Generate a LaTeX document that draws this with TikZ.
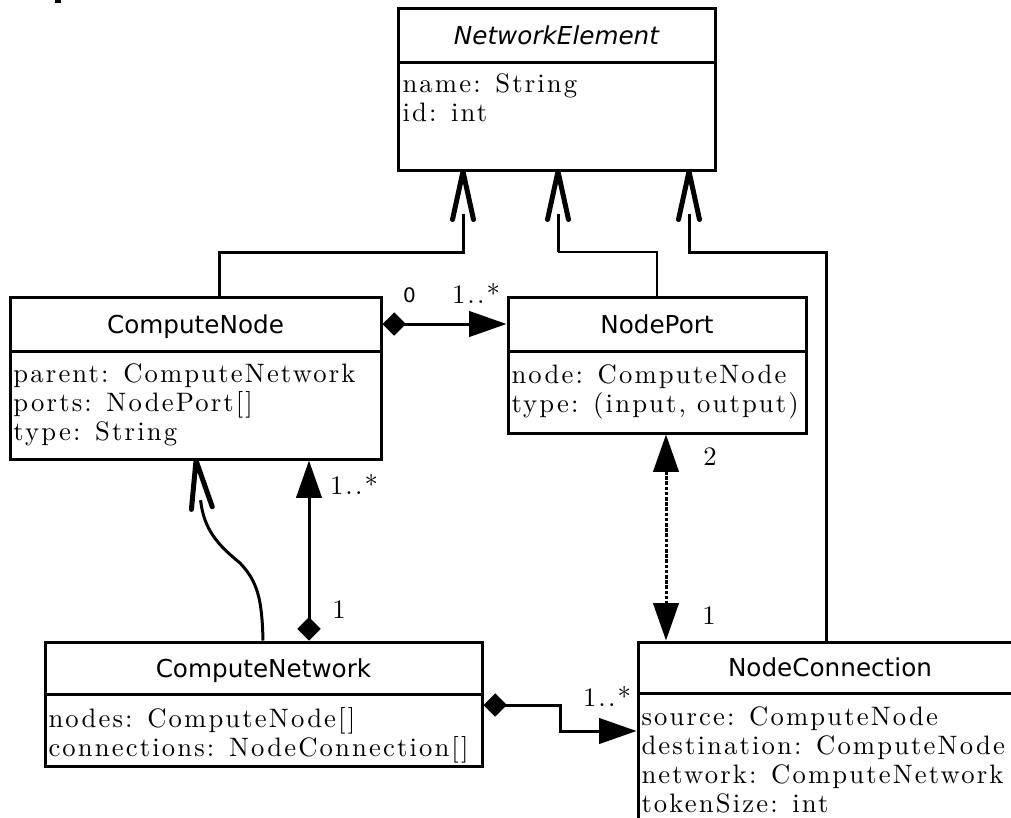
\documentclass[tikz,border=0pt]{standalone}
\usepackage{fontspec}
\usepackage{tikz}
\usetikzlibrary{arrows.meta}
\newfontfamily\headfont{DejaVu Sans}
\newfontfamily\attrfamily{lmroman10-regular.otf}[LetterSpace=8]
\newcommand\attrfont{\attrfamily\fontsize{20}{21.75}\selectfont}
\tikzset{every picture/.style={line width=0.75pt}}
\tikzset{
  classhead/.style={draw, line width=2.25pt, inner sep=0pt, text height=13.5pt, text depth=0pt, font=\headfont\fontsize{18.5}{22}\selectfont},
  classbody/.style={draw, line width=2.25pt, inner sep=0pt},
  attrs/.style={anchor=base west, inner sep=0pt, align=left, font=\attrfont},
  mult/.style={inner sep=0pt, font=\attrfamily\fontsize{20}{22}\selectfont},
  comp/.style={{Diamond[length=17.5pt,width=17.5pt]}-{Triangle[length=28pt,width=19pt]}, line width=2.25pt},
  link/.style={{Triangle[length=28pt,width=19pt]}-{Triangle[length=28pt,width=19pt]}, line width=2.25pt, dash pattern=on 2.6pt off 1.3pt},
  gen/.style={line width=2.25pt, shorten >=31.5pt},
  openhead/.style={line width=3.75pt, line join=round, line cap=round}
}

\begin{document}
\begin{tikzpicture}[x=0.75pt,y=0.75pt,yscale=-1,xscale=1]
\useasboundingbox (0,0) rectangle (1011,818);
\clip (0,0) rectangle (1011,818);

%Class boxes: header and body
\node[classhead, minimum width=237.75pt, minimum height=40.5pt] (neH) at (556.5,35) {\itshape NetworkElement};
\node[classbody, minimum width=237.75pt, minimum height=81pt] (neB) at (556.5,116) {};
\node[classhead, minimum width=278.25pt, minimum height=40.5pt] (cnH) at (195.5,324) {ComputeNode};
\node[classbody, minimum width=278.25pt, minimum height=81pt] (cnB) at (195.5,405) {};
\node[classhead, minimum width=223.5pt, minimum height=40.5pt] (npH) at (657,324) {NodePort};
\node[classbody, minimum width=223.5pt, minimum height=61.5pt] (npB) at (657,392) {};
\node[classhead, minimum width=327.75pt, minimum height=39pt] (cnetH) at (263.5,668) {ComputeNetwork};
\node[classbody, minimum width=327.75pt, minimum height=54pt] (cnetB) at (263.5,730) {};
\node[classhead, minimum width=288pt, minimum height=38.25pt] (ncH) at (830,667.5) {NodeConnection};
\node[classbody, minimum width=288pt, minimum height=117.75pt] (ncB) at (830,771.5) {};

%Attributes (base is the last line)
% Text Node
\node[attrs] (neA) at (402,121) {name: String\\id: int};
% Text Node
\node[attrs] (cnA) at (13,440) {parent: ComputeNetwork\\ports: NodePort[]\\type: String};
% Text Node
\node[attrs] (npA) at (511,412) {node: ComputeNode\\type: (input, output)};
% Text Node
\node[attrs] (cnetA) at (48,756) {nodes: ComputeNode[]\\connections: NodeConnection[]};
% Text Node
\node[attrs] (ncA) at (641,812) {source: ComputeNode\\destination: ComputeNode\\network: ComputeNetwork\\tokenSize: int};

%Bend points
\coordinate (cnUp) at (219,252);
\coordinate (neInA) at (463,252);
\coordinate (neInB) at (558,252);
\coordinate (neInC) at (689,252);
\coordinate (ncUp) at (826,252);
\coordinate (cnetUp) at (263,600);
\coordinate (cnTip) at (196,470);
\coordinate (cnLink) at (309,560);
\coordinate (npLink) at (666,540);
\coordinate (jogA) at (560,705);
\coordinate (jogB) at (560,731);

%Inheritance lines
\draw[gen] (cnH.north -| cnUp) -- (cnUp) -- (neInA) -- (neB.south -| neInA);
\draw[line width=1pt] (npH.north) |- (neInB);
\draw[gen] (neInB) -- (neB.south -| neInB);
\draw[gen] (ncH.north -| ncUp) -- (ncUp) -- (neInC) -- (neB.south -| neInC);
\draw[gen, shorten >=30pt] (cnetH.north -| cnetUp) .. controls (262,600) and (258,582) .. (240,563) .. controls (218,545) and (204,530) .. (cnB.south -| cnTip);

%Open heads
\foreach \p in {neInA,neInB,neInC}
  \draw[openhead, shift={(neB.south -| \p)}, rotate=90] (48,-10.5) -- (0,0) -- (48,10.5);
\draw[openhead, shift={(cnB.south -| cnTip)}, rotate=83] (48,-10.5) -- (0,0) -- (48,10.5);

%Compositions
\draw[comp] (cnH.east) -- (npH.west);
\draw[comp] (cnetH.north -| cnLink) -- (cnB.south -| cnLink);
\draw[comp] (cnetB.east |- jogA) -- (jogA) -- (jogB) -- (ncB.west |- jogB);
%Port link
\draw[link] (npB.south -| npLink) -- (ncH.north -| npLink);

% Text Node
\node[font=\headfont\fontsize{15}{18}\selectfont, inner sep=0pt] (mZero) at (409.5,295) {0};
% Text Node
\node[mult] (mPorts) at (476,293) {1..*};
% Text Node
\node[mult] (mNodes) at (354,484) {1..*};
% Text Node
\node[mult] (mNet) at (339,610) {1};
% Text Node
\node[mult] (mPortEnd) at (710,457) {2};
% Text Node
\node[mult] (mConnEnd) at (709,616) {1};
% Text Node
\node[mult] (mConns) at (607,696) {1..*};

\fill (55,0) rectangle (61,3);

\end{tikzpicture}
\end{document}
